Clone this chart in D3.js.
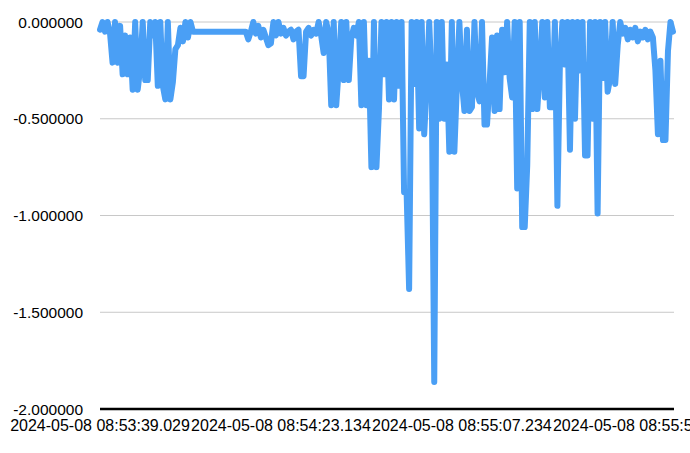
<!DOCTYPE html>
<html><head><meta charset="utf-8">
<script src="https://cdn.jsdelivr.net/npm/d3@7"></script>
<style>body{margin:0;background:#fff} svg{display:block}</style>
</head><body><svg id="c" width="690" height="453"></svg>
<script>
const values = [
 -0.04, 0, -0.05, 0, -0.06, -0.21, 0, -0.21, -0.02, -0.27,
 -0.07, -0.27, -0.08, -0.35, 0, -0.35, -0.24, 0, -0.30, -0.30,
 0, -0.07, 0, -0.33, 0, -0.33, -0.40, 0, -0.40, -0.31,
 -0.14, -0.12, -0.03, -0.10, 0, -0.08, 0, -0.05, -0.05, -0.05,
 -0.05, -0.05, -0.05, -0.05, -0.05, -0.05, -0.05, -0.05, -0.05, -0.05,
 -0.05, -0.05, -0.05, -0.05, -0.05, -0.05, -0.05, -0.05, -0.05, -0.09,
 -0.05, 0, -0.06, -0.02, -0.08, -0.04, -0.08, -0.12, -0.11, 0,
 -0.07, 0, -0.06, -0.03, -0.07, -0.05, -0.04, -0.09, -0.05, -0.04,
 -0.28, -0.28, -0.05, -0.03, -0.07, -0.04, -0.06, 0, -0.07, -0.16,
 0, -0.06, -0.43, 0, -0.43, -0.24, 0, -0.30, 0, -0.30,
 -0.08, -0.03, -0.07, 0, -0.43, 0, -0.43, -0.20, -0.75, 0,
 -0.75, -0.45, 0, -0.27, 0, -0.40, 0, -0.40, 0, -0.33,
 0, -0.88, -0.88, -1.38, 0, -0.32, 0, -0.55, 0, -0.58,
 -0.33, 0, -0.33, -1.86, 0, -0.50, 0, -0.50, -0.22, -0.67,
 0, -0.67, -0.33, 0, -0.31, -0.46, -0.04, -0.46, -0.44, 0,
 -0.36, -0.41, 0, -0.53, -0.53, -0.32, -0.08, -0.46, -0.07, -0.45,
 -0.04, -0.26, 0, -0.29, -0.39, 0, -0.86, 0, -1.06, -1.06,
 -0.74, 0, -0.45, 0, -0.45, -0.25, 0, -0.39, 0, -0.44,
 -0.44, 0, -0.95, -0.21, 0, -0.22, 0, -0.66, 0, -0.50,
 0, -0.25, 0, -0.69, -0.69, 0, -0.50, 0, -0.99, 0,
 -0.29, 0, -0.36, -0.29, 0, -0.32, -0.12, 0, -0.06, -0.03,
 -0.09, -0.04, -0.08, -0.03, -0.10, -0.05, -0.08, -0.04, -0.09, -0.05,
 -0.08, -0.25, -0.58, -0.20, -0.61, -0.61, -0.15, 0, -0.05
];
const xTickIndex = [0, 72, 144, 216];
const xTickLabels = ["2024-05-08 08:53:39.029", "2024-05-08 08:54:23.134", "2024-05-08 08:55:07.234", "2024-05-08 08:55:51.334"];
const yTicks = [0, -0.5, -1, -1.5, -2];

const svg = d3.select("#c");
const x = d3.scaleLinear().domain([0, values.length - 1]).range([100, 673]);
const y = d3.scaleLinear().domain([-2, 0]).range([409, 22]);
const font = "'Liberation Sans', Arial, Helvetica, sans-serif";

// gridlines
svg.append("g").selectAll("line").data(yTicks.filter(d => d !== -2)).join("line")
  .attr("x1", 100).attr("x2", 674)
  .attr("y1", d => y(d)).attr("y2", d => y(d))
  .attr("stroke", "#c8c8c8").attr("stroke-width", 1);

// y labels
svg.append("g").selectAll("text").data(yTicks).join("text")
  .attr("x", 83).attr("y", d => y(d) + 5.5)
  .attr("text-anchor", "end")
  .style("font-family", font).style("font-size", "15.5px").attr("fill", "#000")
  .text(d => d.toFixed(6));

// line
const line = d3.line().x((d, i) => x(i)).y(d => y(d));
svg.append("path").datum(values)
  .attr("d", line)
  .attr("fill", "none")
  .attr("stroke", "#4a9ff5")
  .attr("stroke-width", 6)
  .attr("stroke-linejoin", "round")
  .attr("stroke-linecap", "round");

// bottom axis line
svg.append("line")
  .attr("x1", 100).attr("x2", 674)
  .attr("y1", y(-2)).attr("y2", y(-2))
  .attr("stroke", "#000").attr("stroke-width", 2.5);

// x labels
svg.append("g").selectAll("text").data(xTickIndex).join("text")
  .attr("x", d => x(d)).attr("y", 431)
  .attr("text-anchor", "middle")
  .style("font-family", font).style("font-size", "16px").attr("fill", "#000")
  .text((d, i) => xTickLabels[i]);
</script></body></html>
